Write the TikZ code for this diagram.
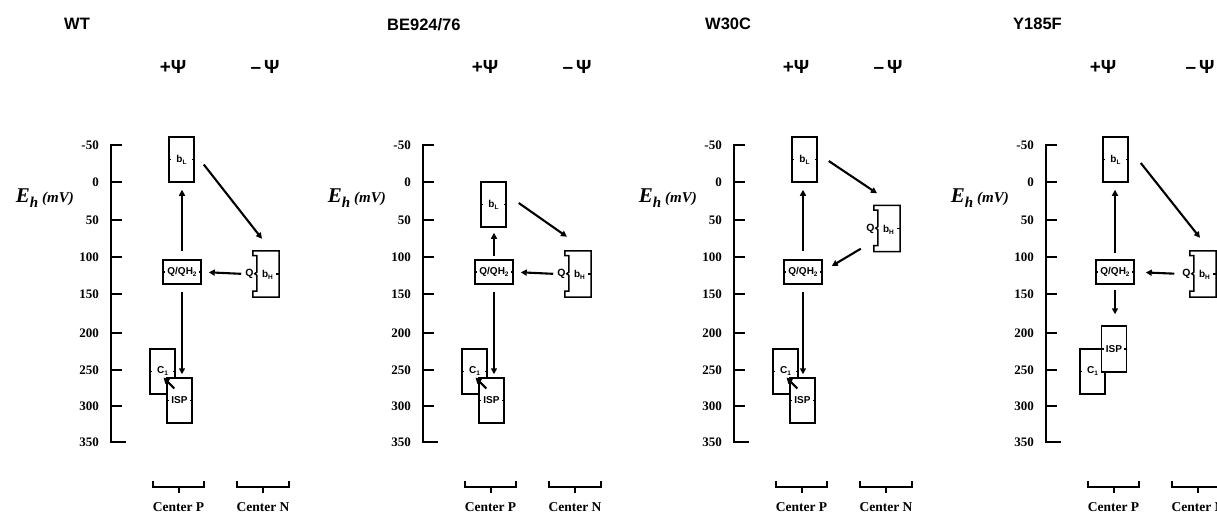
\documentclass[tikz,border=0pt]{standalone}
\usepackage{fontspec}
\setmainfont{Liberation Serif}
\newfontfamily\hv{Liberation Sans}
\usetikzlibrary{arrows.meta}
\tikzset{
  axisline/.style={line width=2.5pt},
  tickline/.style={line width=2.1pt},
  ticklab/.style={anchor=east, inner sep=0pt, font=\bfseries\fontsize{13}{13}\selectfont},
  titlelab/.style={anchor=west, inner sep=0pt, font=\hv\bfseries\fontsize{16.5}{18}\selectfont},
  psilab/.style={inner sep=0pt, font=\hv\bfseries\fontsize{19}{19}\selectfont},
  ctrlab/.style={inner sep=0pt, font=\bfseries\fontsize{13.5}{13.5}\selectfont},
  brk/.style={line width=2pt},
  ebox/.style={draw, line width=1.5pt, fill=white, inner sep=0pt, font=\hv\bfseries\fontsize{10}{10}\selectfont},
  bhshape/.style={inner sep=0pt, font=\hv\bfseries\fontsize{10}{10}\selectfont},
  qlab/.style={inner sep=0pt, font=\hv\bfseries\fontsize{10.5}{10.5}\selectfont},
  tk/.style={line width=1.2pt},
  arr/.style={line width=2.1pt, -{Triangle[length=6pt,width=6pt]}},
}
\newcommand\sub[1]{\raisebox{-2pt}{\fontsize{6.5}{6.5}\selectfont #1}}
\newcommand\ticks[1]{\draw[tk] (#1.west) -- ++(3,0); \draw[tk] (#1.east) -- ++(-3,0);}
% b_H box with notch: #1 name, #2 center
\newcommand\bHbox[2]{%
  \node[bhshape, minimum width=26pt, minimum height=46pt, text depth=0pt] (#1) at #2 {\hspace{3pt}b\sub{H}};
  \draw[line width=1.5pt] (#1.north west) -- (#1.north east) -- (#1.south east) -- (#1.south west)
     -- ++(0,-6) -- ++(4,0) -- ++(0,-16) -- ++(-2,-1.5) -- ++(2,-1.5) -- ++(0,-16.5) -- ++(-4,0) -- cycle;
  \draw[tk] (#1.east) -- ++(-3,0);
}
\newcommand\panelframe[1]{%
  \draw[axisline] (0,144) -- (0,442) -- (15,442);
  \foreach \y in {145,182,220,257,294,333,370,406} {\draw[tickline] (0,\y) -- (11,\y);}
  \foreach \v/\y [count=\i] in {-50/145,0/182,50/220,100/257,150/294,200/333,250/370,300/406,350/442}
    {\node[ticklab] (tl\i) at (-12,\y) {\v};}
  \node[anchor=east, inner sep=0pt] (eh) at (-37,198)
    {{\bfseries\itshape\fontsize{21}{21}\selectfont E\raisebox{-4.5pt}{\fontsize{15}{15}\selectfont h}}\hspace{4pt}{\bfseries\itshape\fontsize{15}{15}\selectfont (mV)}};
  \node[psilab] (pp) at (#1,67) {+Ψ};
  \node[psilab] (mp) at (154,67) {–\hspace{3pt}Ψ};
  \draw[brk] (42,481) -- (42,487) -- (93,487) -- (93,481);
  \draw[brk] (67.5,487) -- (67.5,493);
  \draw[brk] (126,481) -- (126,487) -- (178,487) -- (178,481);
  \draw[brk] (152,487) -- (152,493);
  \node[ctrlab] (cp) at (67.5,507) {Center P};
  \node[ctrlab] (cn) at (152,507) {Center N};
}
\begin{document}
\begin{tikzpicture}[x=1pt,y=-1pt]
\useasboundingbox[fill=white] (0,0) rectangle (1217,516);

% titles
\node[titlelab] (t1) at (64,24) {WT};
\node[titlelab] (t2) at (387,25) {BE924/76};
\node[titlelab] (t3) at (705,24) {W30C};
\node[titlelab] (t4) at (1013,24) {Y185F};

% ---------- Panel 1: WT ----------
\begin{scope}[shift={(111,0)}, name prefix=a-]
  \panelframe{62}
  \node[ebox, minimum width=25pt, minimum height=45pt] (bl) at (70.5,159.5) {b\sub{L}};
  \ticks{bl}
  \node[ebox, minimum width=38pt, minimum height=24pt] (qq) at (71,272) {Q/QH\sub{2}};
  \ticks{qq}
  \bHbox{bh}{(155,274)}
  \node[qlab, anchor=east] (q) at ([xshift=1pt]bh.west) {Q};
  \node[ebox, minimum width=25pt, minimum height=45pt] (c1) at (51.5,371.5) {C\sub{1}};
  \ticks{c1}
  \node[ebox, minimum width=25pt, minimum height=45pt] (isp) at (68.5,400.5) {ISP};
  \ticks{isp}
  \draw[arr, shorten <=8pt, shorten >=7pt] (qq.north) -- (qq.north |- bl.south);
  \draw[arr] ([shift={(9,5)}]bl.east) -- ([shift={(-4,-12)}]bh.north);
  \draw[arr, shorten <=4pt, shorten >=7pt] (q.west) -- (qq.east);
  \draw[arr, shorten <=7pt, shorten >=3pt] (qq.south) -- (qq.south |- isp.north);
  \draw[arr] ([shift={(8,-12)}]isp.west) -- ([shift={(1,6)}]c1.center);
\end{scope}

% ---------- Panel 2: BE924/76 ----------
\begin{scope}[shift={(423,0)}, name prefix=b-]
  \panelframe{62}
  \node[ebox, minimum width=25pt, minimum height=45pt] (bl) at (70.5,204.5) {b\sub{L}};
  \ticks{bl}
  \node[ebox, minimum width=38pt, minimum height=24pt] (qq) at (71,272) {Q/QH\sub{2}};
  \ticks{qq}
  \bHbox{bh}{(155,274)}
  \node[qlab, anchor=east] (q) at ([xshift=1pt]bh.west) {Q};
  \node[ebox, minimum width=25pt, minimum height=45pt] (c1) at (51.5,371.5) {C\sub{1}};
  \ticks{c1}
  \node[ebox, minimum width=25pt, minimum height=45pt] (isp) at (68.5,400.5) {ISP};
  \ticks{isp}
  \draw[arr, shorten <=3pt, shorten >=5pt] (qq.north) -- (qq.north |- bl.south);
  \draw[arr] ([shift={(12,-1.5)}]bl.east) -- ([shift={(-11,-14)}]bh.north);
  \draw[arr, shorten <=4pt, shorten >=7pt] (q.west) -- (qq.east);
  \draw[arr, shorten <=7pt, shorten >=3pt] (qq.south) -- (qq.south |- isp.north);
  \draw[arr] ([shift={(8,-12)}]isp.west) -- ([shift={(1,6)}]c1.center);
\end{scope}

% ---------- Panel 3: W30C ----------
\begin{scope}[shift={(734,0)}, name prefix=c-]
  \panelframe{62}
  \node[ebox, minimum width=25pt, minimum height=45pt] (bl) at (70.5,159.5) {b\sub{L}};
  \ticks{bl}
  \node[ebox, minimum width=38pt, minimum height=24pt] (qq) at (69,272) {Q/QH\sub{2}};
  \ticks{qq}
  \bHbox{bh}{(153,228.5)}
  \node[qlab, anchor=east] (q) at ([xshift=1pt]bh.west) {Q};
  \node[ebox, minimum width=25pt, minimum height=45pt] (c1) at (51.5,371.5) {C\sub{1}};
  \ticks{c1}
  \node[ebox, minimum width=25pt, minimum height=45pt] (isp) at (68.5,400.5) {ISP};
  \ticks{isp}
  \draw[arr, shorten <=8pt, shorten >=7pt] (qq.north) -- (qq.north |- bl.south);
  \draw[arr] ([shift={(11,1.5)}]bl.east) -- ([shift={(-10,-12)}]bh.north);
  \draw[arr] ([shift={(-13,-3)}]bh.south west) -- ([shift={(9,-6)}]qq.east);
  \draw[arr, shorten <=7pt, shorten >=3pt] (qq.south) -- (qq.south |- isp.north);
  \draw[arr] ([shift={(8,-12)}]isp.west) -- ([shift={(1,6)}]c1.center);
\end{scope}

% ---------- Panel 4: Y185F ----------
\begin{scope}[shift={(1046,0)}, name prefix=d-]
  \panelframe{57}
  \node[ebox, minimum width=25pt, minimum height=45pt] (bl) at (69.5,159.5) {b\sub{L}};
  \ticks{bl}
  \node[ebox, minimum width=38pt, minimum height=24pt] (qq) at (69,272) {Q/QH\sub{2}};
  \ticks{qq}
  \bHbox{bh}{(157,274)}
  \node[qlab, anchor=east] (q) at ([xshift=1pt]bh.west) {Q};
  \node[ebox, minimum width=25pt, minimum height=45pt] (c1) at (46.5,371.5) {C\sub{1}};
  \ticks{c1}
  \node[ebox, minimum width=25pt, minimum height=46pt] (isp) at (68,349) {ISP};
  \ticks{isp}
  \draw[arr, shorten <=6pt, shorten >=7pt] (qq.north) -- (qq.north |- bl.south);
  \draw[arr] ([shift={(12,3.5)}]bl.east) -- ([shift={(-3,-13)}]bh.north);
  \draw[arr, shorten <=8pt, shorten >=11pt] (q.west) -- (qq.east);
  \draw[arr, shorten <=5pt, shorten >=11pt] (qq.south) -- (qq.south |- isp.north);
\end{scope}
\end{tikzpicture}
\end{document}
